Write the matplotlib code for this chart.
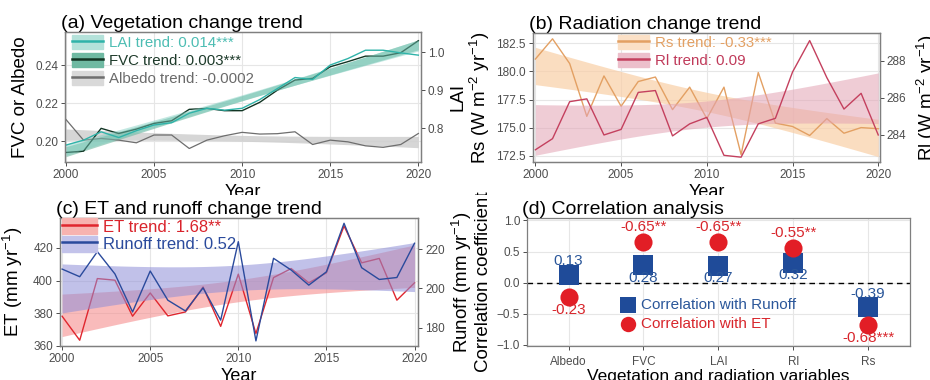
import numpy as np
import matplotlib.pyplot as plt
from matplotlib.patches import Patch, Rectangle
from matplotlib.lines import Line2D

plt.rcParams["font.family"] = ["Liberation Sans", "DejaVu Sans"]
plt.rcParams["mathtext.default"] = "regular"

# ---- data ----
years = np.arange(2000, 2021)

fvc = [0.1940, 0.1947, 0.2067, 0.2040, 0.2063, 0.2093, 0.2107, 0.2167, 0.2172, 0.2160, 0.2160,
       0.2204, 0.2268, 0.2321, 0.2330, 0.2391, 0.2418, 0.2447, 0.2447, 0.2465, 0.2528]
lai = [0.755, 0.768, 0.790, 0.775, 0.793, 0.808, 0.814, 0.839, 0.852, 0.847, 0.852,
       0.875, 0.904, 0.933, 0.928, 0.966, 0.983, 1.005, 1.005, 0.998, 0.992]
albedo = [0.2114, 0.2005, 0.2014, 0.2005, 0.1991, 0.2032, 0.2032, 0.1961, 0.2005, 0.2028, 0.2046,
          0.2037, 0.2039, 0.2049, 0.1982, 0.2005, 0.1996, 0.1975, 0.1967, 0.1982, 0.2040]

rs = [181.1, 182.9, 180.7, 176.0, 179.6, 176.9, 179.1, 179.5, 176.6, 178.6, 175.8,
      178.6, 172.6, 179.9, 175.4, 175.1, 174.3, 175.8, 174.5, 175.0, 174.9]
rl = [283.2, 283.8, 285.8, 285.95, 284.0, 284.3, 286.3, 286.4, 283.95, 284.6, 284.95,
      282.9, 282.8, 284.6, 284.9, 287.4, 289.1, 287.1, 285.4, 286.25, 284.0]

et = [378.2, 363.5, 401.2, 400.2, 378.2, 392.4, 378.4, 380.8, 396.1, 372.0, 403.9,
      367.6, 401.8, 407.3, 398.6, 404.7, 433.3, 410.8, 413.5, 388.0, 398.6]
runoff = [209.9, 206.0, 218.8, 207.4, 188.0, 208.9, 194.0, 188.5, 200.3, 183.8, 223.9,
          173.2, 215.4, 209.4, 201.7, 208.5, 233.3, 210.6, 204.6, 205.6, 223.1]

variables = ["Albedo", "FVC", "LAI", "Rl", "Rs"]
corr_runoff = [0.13, 0.28, 0.27, 0.32, -0.39]
corr_et = [-0.23, 0.65, 0.65, 0.55, -0.68]
runoff_labels = ["0.13", "0.28", "0.27", "0.32", "-0.39"]
et_labels = ["-0.23", "-0.65**", "-0.65**", "-0.55**", "-0.68***"]

trend_text_a = ["LAI trend: 0.014***", "FVC trend: 0.003***", "Albedo trend: -0.0002"]
trend_text_b = ["Rs trend: -0.33***", "Rl trend: 0.09"]
trend_text_c = ["ET trend: 1.68**", "Runoff trend: 0.52"]

TICK_C = "#4d4d4d"
GRID_C = "#e6e6e6"
xs = np.linspace(2000, 2020, 100)


def lm_band(y, t=2.093):
    # linear fit with 95% confidence ribbon, like geom_smooth(method="lm")
    x = years.astype(float)
    y = np.asarray(y, dtype=float)
    b, a = np.polyfit(x, y, 1)
    s = np.sqrt(((y - (a + b * x)) ** 2).sum() / (len(x) - 2))
    se = s * np.sqrt(1 / len(x) + (xs - x.mean()) ** 2 / ((x - x.mean()) ** 2).sum())
    fit = a + b * xs
    return fit - t * se, fit + t * se


def style(ax, right=None):
    for s in ax.spines.values():
        s.set_color("#7f7f7f")
        s.set_linewidth(0.9)
    ax.grid(True, color=GRID_C, lw=0.8)
    ax.set_axisbelow(True)
    ax.tick_params(colors=TICK_C, labelsize=8.5, length=3, width=0.7, pad=2)
    if right is not None:
        right.tick_params(colors=TICK_C, labelsize=8.5, length=3, width=0.7, pad=2)
        for s in right.spines.values():
            s.set_color("#7f7f7f")
            s.set_linewidth(0.9)


def title(ax, text):
    ax.text(-0.012, 1.0, text, transform=ax.transAxes, fontsize=14, va="bottom", ha="left")


def legend(ax, handles, labels, colors, anchor, size=10.8, hh=1.07, sp=0.2):
    leg = ax.legend(handles, labels, loc="upper left", bbox_to_anchor=anchor, frameon=False,
                    fontsize=size, handlelength=2.1, handleheight=hh, handletextpad=0.35,
                    labelspacing=sp, borderaxespad=0, borderpad=0)
    for t, c in zip(leg.get_texts(), colors):
        t.set_color(c)
    return leg


fig = plt.figure(figsize=(9.3, 3.8), dpi=100)

# ---------- (a) vegetation ----------
ax = fig.add_axes([0.0699, 0.5737, 0.3828, 0.3421])
ax2 = ax.twinx()
style(ax, ax2)

lai_c, lai_band = "#2fb3a9", "#7dcdc0"
fvc_c, fvc_band = "#123524", "#6fb9a2"
alb_c, alb_band = "#6e6e6e", "#cfcfcf"

lo, hi = lm_band(albedo)
ax.fill_between(xs, lo, hi, color=alb_band, alpha=0.85, lw=0)
lo, hi = lm_band(fvc)
ax.fill_between(xs, lo, hi, color=fvc_band, alpha=0.6, lw=0)
ax.plot(years, albedo, color=alb_c, lw=0.9)
ax.plot(years, fvc, color=fvc_c, lw=1.0)
lo, hi = lm_band(lai)
ax2.fill_between(xs, lo, hi, color=lai_band, alpha=0.45, lw=0)
ax2.plot(years, lai, color=lai_c, lw=1.0)

ax.set_xlim(1999.95, 2020.15)
ax.set_ylim(0.189, 0.2574)
ax2.set_ylim(0.7105, 1.053)
ax.set_yticks([0.20, 0.22, 0.24])
ax2.set_yticks([0.8, 0.9, 1.0])
ax.set_xticks([2000, 2005, 2010, 2015, 2020])
ax.set_ylabel("FVC or Albedo", fontsize=13.5)
ax.yaxis.set_label_coords(-0.101, 0.5)
ax2.set_ylabel("LAI", fontsize=13.5, rotation=90)
ax2.yaxis.set_label_coords(1.081, 0.5)
ax.set_xlabel("Year", fontsize=13)
ax.xaxis.set_label_coords(0.5, -0.17)
title(ax, "(a) Vegetation change trend")
legend(ax2,
       [(Patch(color="#b4e2da"), Line2D([], [], color=lai_c, lw=1.8)),
        (Patch(color=fvc_band), Line2D([], [], color=fvc_c, lw=1.8)),
        (Patch(color="#d9d9d9"), Line2D([], [], color=alb_c, lw=1.8))],
       trend_text_a, ["#4dbdb3", "#1d3a2a", "#6a6a6a"], (0.019, 0.977))

# ---------- (b) radiation ----------
bx = fig.add_axes([0.5731, 0.5737, 0.3731, 0.3395])
bx2 = bx.twinx()
style(bx, bx2)
rs_c, rs_band = "#e3a063", "#f9cfa6"
rl_c, rl_band = "#c4405e", "#e3a3b4"

lo, hi = lm_band(rs)
bx.fill_between(xs, lo, hi, color=rs_band, alpha=0.7, lw=0)
bx.plot(years, rs, color=rs_c, lw=1.0)
lo, hi = lm_band(rl)
bx2.fill_between(xs, lo, hi, color=rl_band, alpha=0.55, lw=0)
bx2.plot(years, rl, color=rl_c, lw=1.0)

bx.set_xlim(1999.86, 2020.1)
bx.set_ylim(171.94, 183.42)
bx2.set_ylim(282.54, 289.51)
bx.set_yticks([172.5, 175.0, 177.5, 180.0, 182.5])
bx2.set_yticks([284, 286, 288])
bx.set_xticks([2000, 2005, 2010, 2015, 2020])
bx.set_ylabel(r"Rs (W m$^{-2}$ yr$^{-1}$)", fontsize=13.5)
bx.yaxis.set_label_coords(-0.118, 0.5)
bx2.set_ylabel(r"Rl (W m$^{-2}$ yr$^{-1}$)", fontsize=13.5, rotation=90)
bx2.yaxis.set_label_coords(1.102, 0.5)
bx.set_xlabel("Year", fontsize=13)
bx.xaxis.set_label_coords(0.5, -0.17)
title(bx, "(b) Radiation change trend")
legend(bx2,
       [(Patch(color="#fbe0c6"), Line2D([], [], color=rs_c, lw=1.8)),
        (Patch(color="#ecbfcb"), Line2D([], [], color=rl_c, lw=1.8))],
       trend_text_b, ["#e3a063", "#c03a5a"], (0.245, 0.985))

# ---------- (c) ET and runoff ----------
cx = fig.add_axes([0.0645, 0.0895, 0.385, 0.3368])
cx2 = cx.twinx()
style(cx, cx2)
et_c, et_band = "#e0262e", "#f58f8f"
ro_c, ro_band = "#2a4a9c", "#8f8fd8"

lo, hi = lm_band(et)
cx.fill_between(xs, lo, hi, color=et_band, alpha=0.6, lw=0)
cx.plot(years, et, color=et_c, lw=1.0)
lo, hi = lm_band(runoff)
cx2.fill_between(xs, lo, hi, color=ro_band, alpha=0.55, lw=0)
cx2.plot(years, runoff, color=ro_c, lw=1.0)

cx.set_xlim(1999.88, 2020.2)
cx.set_ylim(360, 438.2)
cx2.set_ylim(170.6, 236)
cx.set_yticks([360, 380, 400, 420])
cx2.set_yticks([180, 200, 220])
cx.set_xticks([2000, 2005, 2010, 2015, 2020])
cx.set_ylabel(r"ET (mm yr$^{-1}$)", fontsize=13.5)
cx.yaxis.set_label_coords(-0.098, 0.5)
cx2.set_ylabel(r"Runoff (mm yr$^{-1}$)", fontsize=13.5, rotation=90)
cx2.yaxis.set_label_coords(1.09, 0.5)
cx.set_xlabel("Year", fontsize=13)
cx.xaxis.set_label_coords(0.5, -0.175)
title(cx, "(c) ET and runoff change trend")
legend(cx2,
       [(Patch(color="#f7b3b0"), Line2D([], [], color=et_c, lw=1.8)),
        (Patch(color="#c3c3ea"), Line2D([], [], color=ro_c, lw=1.8))],
       trend_text_c, ["#d9232b", "#2a4a9c"], (0.005, 1.0), size=12, hh=1.1, sp=0.05)

# ---------- (d) correlation ----------
dx = fig.add_axes([0.5667, 0.0895, 0.4118, 0.3368])
style(dx)
pos = np.arange(len(variables))
sq_c, ci_c = "#1f4b99", "#e21e26"
dx.axhline(0, color="black", lw=1.0, ls=(0, (4, 3)), zorder=1)
dx.scatter(pos, corr_runoff, marker="s", s=200, color=sq_c, zorder=3, lw=0,
           label="Correlation with Runoff")
dx.scatter(pos, corr_et, marker="o", s=170, color=ci_c, zorder=3, lw=0,
           label="Correlation with ET")

ro_off = [9.5, -9, -9, -9, 9.5]
et_off = [-9.5, 11, 11, 11, -9.5]
for i in range(len(variables)):
    dx.annotate(runoff_labels[i], (pos[i], corr_runoff[i]), xytext=(0, ro_off[i]),
                textcoords="offset points", ha="center", va="center",
                fontsize=11, color="#2b579a")
    dx.annotate(et_labels[i], (pos[i], corr_et[i]), xytext=(0, et_off[i]),
                textcoords="offset points", ha="center", va="center",
                fontsize=11, color="#d8262c")

dx.set_xlim(-0.555, 4.56)
dx.set_ylim(-1.02, 1.04)
dx.set_xticks(pos)
dx.set_xticklabels(variables)
dx.set_yticks([-1.0, -0.5, 0.0, 0.5, 1.0])
dx.tick_params(axis="x", pad=4.5)
dx.set_ylabel("Correlation coefficient", fontsize=13.5)
dx.yaxis.set_label_coords(-0.091, 0.5)
dx.set_xlabel("Vegetation and radiation variables", fontsize=12.5)
dx.xaxis.set_label_coords(0.5, -0.178)
title(dx, "(d) Correlation analysis")
leg = dx.legend(loc="upper left", bbox_to_anchor=(0.243, 0.375), frameon=False,
                fontsize=11, handlelength=1.0, handletextpad=0.4, labelspacing=0.35,
                borderaxespad=0, borderpad=0, markerscale=0.85)
for t, c in zip(leg.get_texts(), ["#2b579a", "#d8262c"]):
    t.set_color(c)

# lower panels sit over the bottom of the upper "Year" labels, as in the original
fig.patches.append(Rectangle((0, 181 / 380), 1, 4.5 / 380, transform=fig.transFigure,
                             facecolor="white", edgecolor="none", zorder=10))

fig.savefig("out.png", dpi=100)
